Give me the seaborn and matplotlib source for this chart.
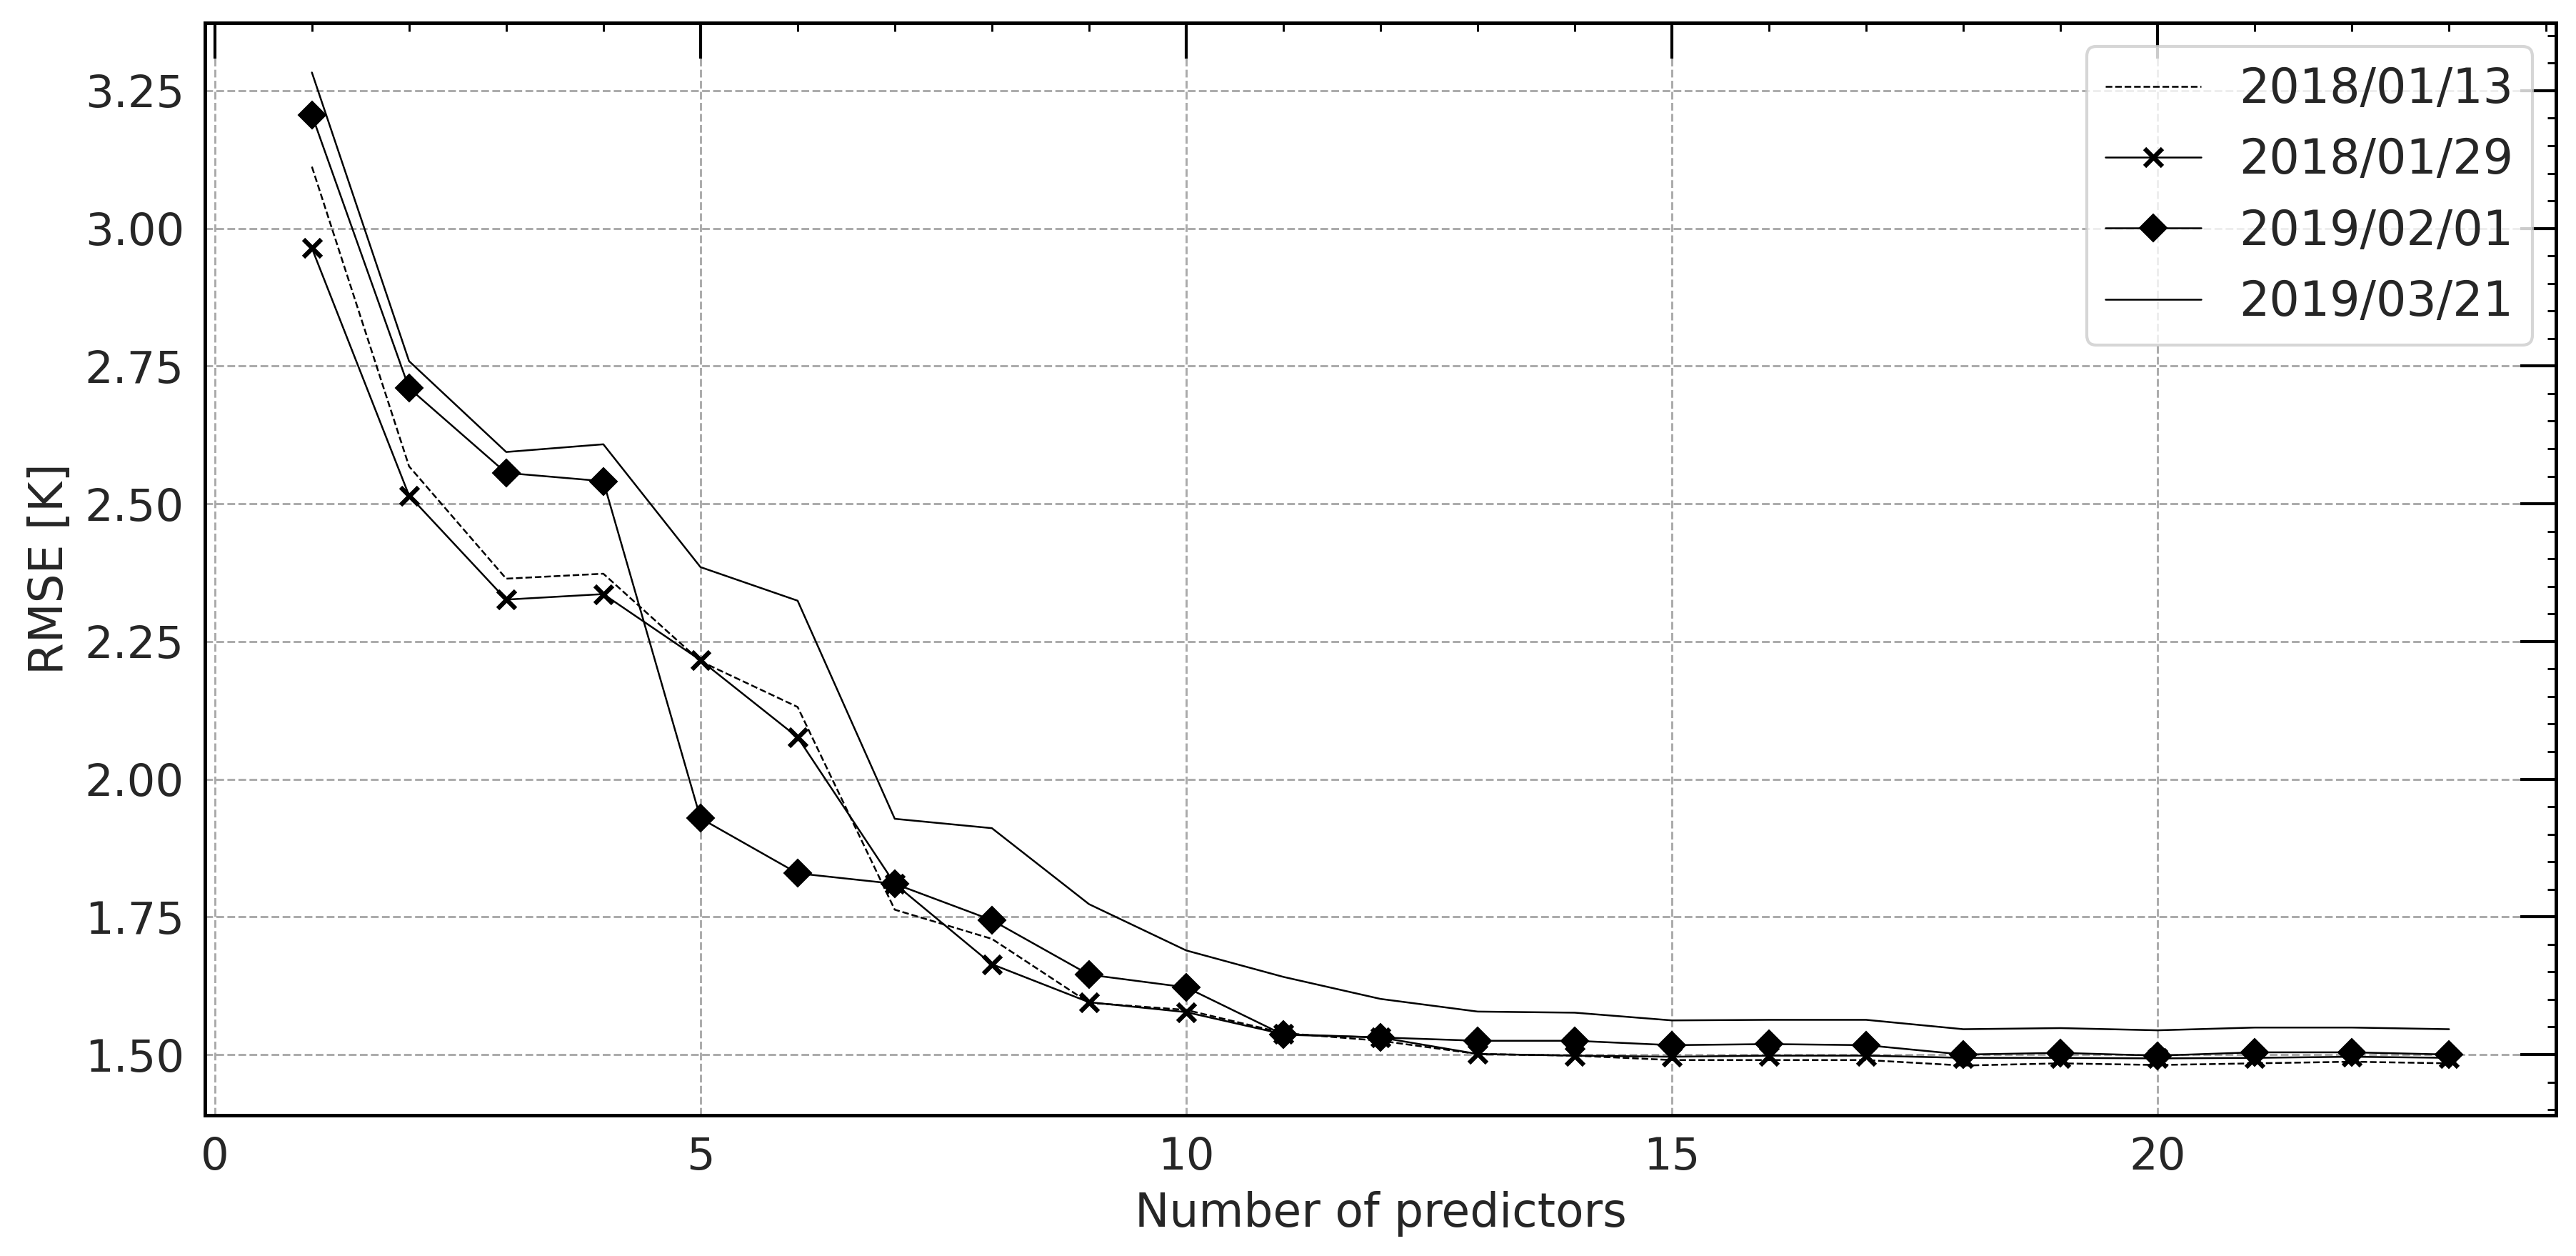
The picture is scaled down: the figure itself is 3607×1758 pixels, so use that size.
import numpy as np
import pandas as pd
import seaborn as sns
import matplotlib
matplotlib.use('Agg')
import matplotlib.pyplot as plt
from matplotlib.ticker import MultipleLocator, AutoMinorLocator, FormatStrFormatter

n_pred = list(range(1, 24))

rmse_20180113 = [3.112, 2.568, 2.364, 2.373, 2.214, 2.131, 1.763, 1.710, 1.594, 1.581, 1.539, 1.525,
                 1.501, 1.498, 1.490, 1.490, 1.490, 1.480, 1.484, 1.481, 1.484, 1.487, 1.484]
rmse_20180129 = [2.964, 2.515, 2.326, 2.336, 2.216, 2.076, 1.810, 1.664, 1.595, 1.577, 1.537, 1.531,
                 1.501, 1.498, 1.496, 1.498, 1.498, 1.494, 1.494, 1.493, 1.494, 1.496, 1.494]
rmse_20190201 = [3.206, 2.710, 2.556, 2.541, 1.929, 1.829, 1.810, 1.744, 1.645, 1.622, 1.536, 1.531,
                 1.525, 1.525, 1.517, 1.519, 1.517, 1.500, 1.503, 1.498, 1.504, 1.504, 1.500]
rmse_20190321 = [3.283, 2.759, 2.594, 2.608, 2.385, 2.324, 1.928, 1.911, 1.773, 1.689, 1.641, 1.601,
                 1.578, 1.576, 1.562, 1.563, 1.563, 1.546, 1.548, 1.544, 1.549, 1.549, 1.546]

dates = ['2018/01/13', '2018/01/29', '2019/02/01', '2019/03/21']

sns.set_style('white')
plt.rcParams['font.family'] = ['DejaVu Sans']

fig = plt.figure(figsize=(3607 / 300, 1758 / 300), dpi=300)
ax = fig.add_axes([0.0796, 0.1121, 0.9922 - 0.0796, 0.9818 - 0.1121])

lw = 0.6
# one call per date, they all differ in line/marker
# (seaborn sets white marker edges by default, so force black)
sns.lineplot(x=n_pred, y=rmse_20180113, ax=ax, color='black', linestyle='--', linewidth=lw,
             label=dates[0])
sns.lineplot(x=n_pred, y=rmse_20180129, ax=ax, color='black', linestyle='-', linewidth=lw,
             marker='x', markersize=6, markeredgewidth=1.5, markeredgecolor='black',
             label=dates[1])
sns.lineplot(x=n_pred, y=rmse_20190201, ax=ax, color='black', linestyle='-', linewidth=lw,
             marker='D', markersize=6.3, markeredgewidth=0.5, markeredgecolor='black',
             markerfacecolor='black', label=dates[2])
sns.lineplot(x=n_pred, y=rmse_20190321, ax=ax, color='black', linestyle='-', linewidth=lw,
             label=dates[3])

ax.margins(x=0.05, y=0.05)
ax.xaxis.set_major_locator(MultipleLocator(5))
ax.yaxis.set_major_locator(MultipleLocator(0.25))
ax.xaxis.set_minor_locator(AutoMinorLocator())
ax.yaxis.set_minor_locator(AutoMinorLocator())
ax.yaxis.set_major_formatter(FormatStrFormatter('%.2f'))

ax.tick_params(which='both', direction='in', top=True, right=True, color='black')
ax.tick_params(which='major', length=12, width=1.0, labelsize=15, pad=7)
ax.tick_params(which='minor', length=2.8, width=0.7)
for sp in ax.spines.values():
    sp.set_color('black')
    sp.set_linewidth(1.2)

ax.grid(True, which='major', linestyle='--', color='#aaaaaa', linewidth=0.7)

ax.set_xlabel('Number of predictors', fontsize=15.5)
ax.set_ylabel('RMSE [K]', fontsize=15.5)

leg = ax.legend(loc='upper right', fontsize=16, frameon=True, fancybox=True, framealpha=0.8,
                edgecolor='#cccccc')

fig.savefig('out.png', dpi=300)
